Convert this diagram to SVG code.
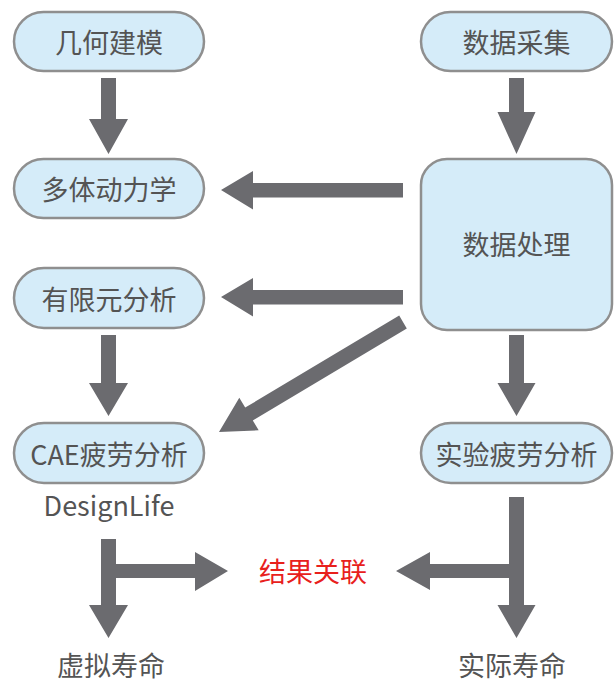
<svg xmlns="http://www.w3.org/2000/svg" width="616" height="682" viewBox="0 0 616 682">
<style>
.box{fill:#d5ecf9;stroke:#8f8f8f;stroke-width:2.5}
.t{font-family:"Noto Sans CJK SC","Noto Sans",sans-serif;font-size:27px;fill:#545454;text-anchor:middle;dominant-baseline:central}
.r{fill:#e8201c}
.arr{fill:#6b6b6f}
</style>
<rect width="616" height="682" fill="#ffffff"/>
<g id="jihejianmo"><rect class="box" x="14" y="12" width="190" height="59" rx="29.5"/><text class="t" x="109" y="41.5">几何建模</text></g>
<g id="duotidonglixue"><rect class="box" x="14" y="159" width="190" height="59" rx="29.5"/><text class="t" x="109" y="188.5">多体动力学</text></g>
<g id="youxianyuan"><rect class="box" x="14" y="268" width="190" height="60" rx="30"/><text class="t" x="109" y="298">有限元分析</text></g>
<g id="cae"><rect class="box" x="14" y="423" width="190" height="60" rx="30"/><text class="t" x="109" y="453">CAE疲劳分析</text><text class="t" x="109" y="504">DesignLife</text></g>
<g id="shujucaiji"><rect class="box" x="421" y="12" width="191" height="59" rx="29.5"/><text class="t" x="516.5" y="41.5">数据采集</text></g>
<g id="shujuchuli"><rect class="box" x="421" y="159" width="191" height="171" rx="26"/><text class="t" x="516.5" y="243">数据处理</text></g>
<g id="shiyan"><rect class="box" x="421" y="423" width="191" height="60" rx="30"/><text class="t" x="516.5" y="453">实验疲劳分析</text></g>
<g id="jieguo"><text class="t r" x="313" y="570">结果关联</text></g>
<g id="xuni"><text class="t" x="111" y="664">虚拟寿命</text></g>
<g id="shiji"><text class="t" x="512" y="664">实际寿命</text></g>
<g id="connectors" class="arr">
<polygon points="101,78 116,78 116,119 128,119 108.5,154 89,119 101,119"/>
<polygon points="509,78 524,78 524,112 535.5,112 516.5,154 497.5,112 509,112"/>
<polygon points="403,183 403,197.5 253,197.5 253,209.5 221,190 253,171 253,183"/>
<polygon points="403,290 403,304.5 253,304.5 253,316.5 221,297 253,278 253,290"/>
<polygon points="399.2,315.6 406.8,328.4 252.8,420.4 258.7,430.3 219,432 239.3,397.7 245.2,407.6"/>
<polygon points="101,335 116,335 116,383 128,383 108.5,416 89,383 101,383"/>
<polygon points="509,335 524,335 524,383 535.5,383 516.5,416 497.5,383 509,383"/>
<polygon points="101,539 116,539 116,564 195,564 195,552 228,571 195,591 195,578 116,578 116,605 128,605 108.5,638 89,605 101,605"/>
<polygon points="509,497 524,497 524,605 535.5,605 516.5,638 497.5,605 509,605 509,578 430,578 430,590 396,571 430,552 430,564 509,564"/>
</g>
</svg>
